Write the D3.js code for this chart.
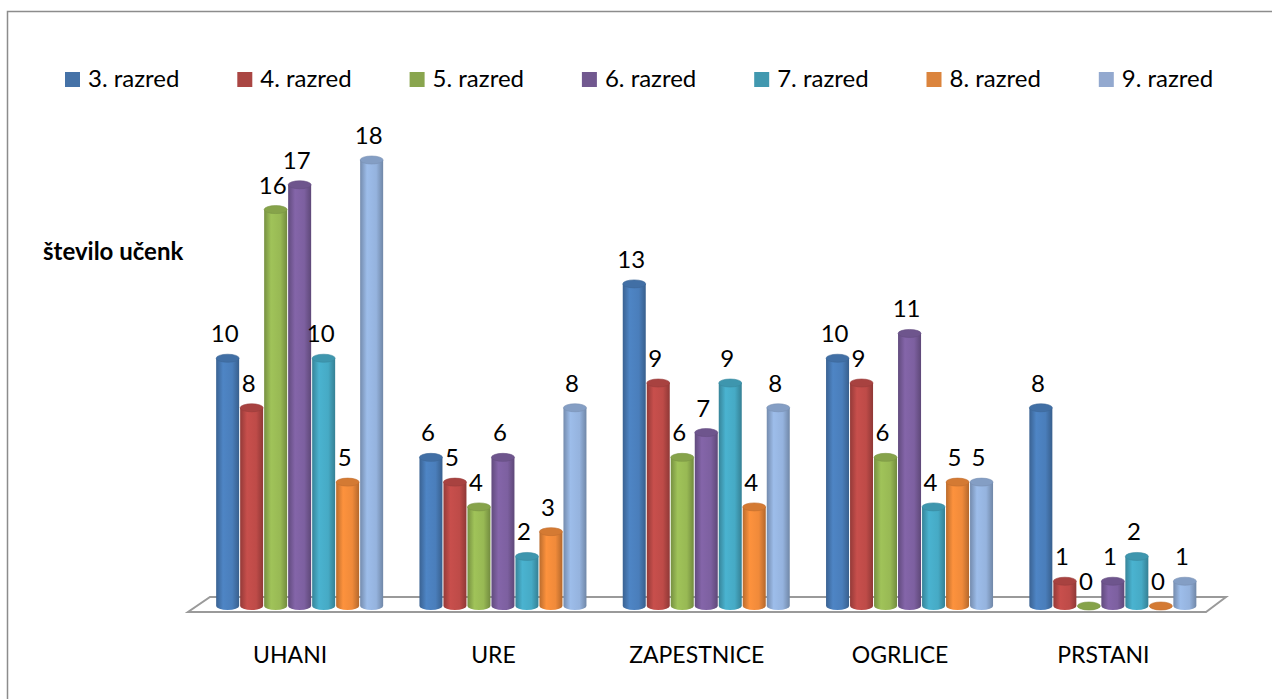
<!DOCTYPE html>
<html>
<head>
<meta charset="utf-8">
<script src="https://cdn.jsdelivr.net/npm/d3@7"></script>
<style>
    body { margin: 0; background: #fff; }
    svg { display: block; }
    text { font-family: Lato, "Open Sans", sans-serif; fill: #000; }
</style>
</head>
<body>
<div id="chart"></div>
<script>
// data
var categories = ['UHANI', 'URE', 'ZAPESTNICE', 'OGRLICE', 'PRSTANI'];
var seriesNames = ['3. razred', '4. razred', '5. razred', '6. razred', '7. razred', '8. razred', '9. razred'];
var razred3 = [10, 6, 13, 10, 8];
var razred4 = [8, 5, 9, 9, 1];
var razred5 = [16, 4, 6, 6, 0];
var razred6 = [17, 6, 7, 11, 1];
var razred7 = [10, 2, 9, 4, 2];
var razred8 = [5, 3, 4, 5, 0];
var razred9 = [18, 8, 8, 5, 1];
var seriesValues = [razred3, razred4, razred5, razred6, razred7, razred8, razred9];
var axisTitle = 'število učenk';

// sizes
var width = 1272;
var height = 699;

// legend colours and shading for the cylinders
var fillColor = d3.scaleOrdinal()
    .domain(seriesNames)
    .range(['#4572A7', '#AA4643', '#89A54E', '#71588F', '#4198AF', '#DB843D', '#93A9CF']);

var baseColor = d3.scaleOrdinal()
    .domain(seriesNames)
    .range(['#4A7EBB', '#BE4B48', '#98B954', '#7D60A0', '#46AAC5', '#F08A3A', '#95B3DE']);

var svg = d3.select('#chart')
    .append('svg')
    .attr('width', width)
    .attr('height', height);

// chart border (runs off to the right and bottom like the original)
svg.append('rect')
    .attr('x', 7.5)
    .attr('y', 11.5)
    .attr('width', 1400)
    .attr('height', 800)
    .attr('fill', 'none')
    .attr('stroke', '#8c8c8c')
    .attr('stroke-width', 1.5);

// scales
var x0 = d3.scaleBand()
    .domain(categories)
    .range([198.5, 1215]);

var clusterWidth = 168;
var x1 = d3.scaleBand()
    .domain(seriesNames)
    .range([0, clusterWidth]);

var y = d3.scaleLinear()
    .domain([0, 18])
    .range([606, 160]);

// gradients for cylinders
var defs = svg.append('defs');
seriesNames.forEach(function (s, i) {
    var c = d3.color(baseColor(s));
    var g = defs.append('linearGradient')
        .attr('id', 'grad' + i)
        .attr('x1', 0).attr('x2', 1).attr('y1', 0).attr('y2', 0);
    g.append('stop').attr('offset', '0%').attr('stop-color', c.darker(0.7));
    g.append('stop').attr('offset', '30%').attr('stop-color', c.brighter(0.15));
    g.append('stop').attr('offset', '70%').attr('stop-color', c);
    g.append('stop').attr('offset', '100%').attr('stop-color', c.darker(0.8));
});

// floor of the 3d plot
var floor = [[188, 612], [1206, 612], [1226, 597], [210, 597]];
svg.append('polygon')
    .attr('points', floor.map(function (p) { return p.join(','); }).join(' '))
    .attr('fill', '#fff')
    .attr('stroke', '#9a9a9a')
    .attr('stroke-width', 2);

// flatten into bar nodes
var bars = [];
categories.forEach(function (cat, ci) {
    seriesNames.forEach(function (s, si) {
        bars.push({cat: cat, series: s, si: si, value: seriesValues[si][ci]});
    });
});

function barX(d) {
    return x0(d.cat) + (x0.bandwidth() - clusterWidth) / 2 + x1(d.series);
}

var bw = x1.bandwidth() - 1;
var rx = bw / 2;
var ry = 4;

var cyl = svg.selectAll('.cyl')
    .data(bars)
    .enter().append('g')
    .classed('cyl', true)
    .attr('transform', function (d) { return 'translate(' + barX(d) + ',0)'; });

// body: rect with elliptical bottom
cyl.append('path')
    .attr('d', function (d) {
        var top = y(d.value);
        var bot = y(0);
        return 'M0,' + top + 'L0,' + bot +
            'A' + rx + ',' + ry + ' 0 0 0 ' + bw + ',' + bot +
            'L' + bw + ',' + top + 'Z';
    })
    .attr('fill', function (d) { return 'url(#grad' + d.si + ')'; });

// top cap
cyl.append('ellipse')
    .attr('cx', rx)
    .attr('cy', function (d) { return y(d.value); })
    .attr('rx', rx)
    .attr('ry', ry)
    .attr('fill', function (d) { return d3.color(baseColor(d.series)).darker(0.35); })
    .attr('stroke', function (d) { return d3.color(baseColor(d.series)).darker(0.6); })
    .attr('stroke-width', 0.6);

// data labels
svg.selectAll('.label')
    .data(bars)
    .enter().append('text')
    .classed('label', true)
    .attr('x', function (d) { return barX(d) + rx - 3; })
    .attr('y', function (d) { return y(d.value) - 16; })
    .attr('text-anchor', 'middle')
    .style('font-size', '24px')
    .text(function (d) { return d.value; });

// category labels
svg.selectAll('.cat')
    .data(categories)
    .enter().append('text')
    .classed('cat', true)
    .attr('x', function (d) { return x0(d) + x0.bandwidth() / 2 - 10; })
    .attr('y', 663)
    .attr('text-anchor', 'middle')
    .style('font-size', '23px')
    .text(function (d) { return d; });

// axis title
svg.append('text')
    .attr('x', 43)
    .attr('y', 260)
    .style('font-size', '24px')
    .style('font-weight', 'bold')
    .text(axisTitle);

// legend
var legend = svg.selectAll('.legend')
    .data(seriesNames)
    .enter().append('g')
    .classed('legend', true)
    .attr('transform', function (d, i) { return 'translate(' + (65 + i * 172.3) + ',72)'; });

legend.append('rect')
    .attr('width', 15)
    .attr('height', 15)
    .attr('fill', function (d) { return fillColor(d); });

legend.append('text')
    .attr('x', 23)
    .attr('y', 15)
    .style('font-size', '24px')
    .text(function (d) { return d; });
</script>
</body>
</html>
